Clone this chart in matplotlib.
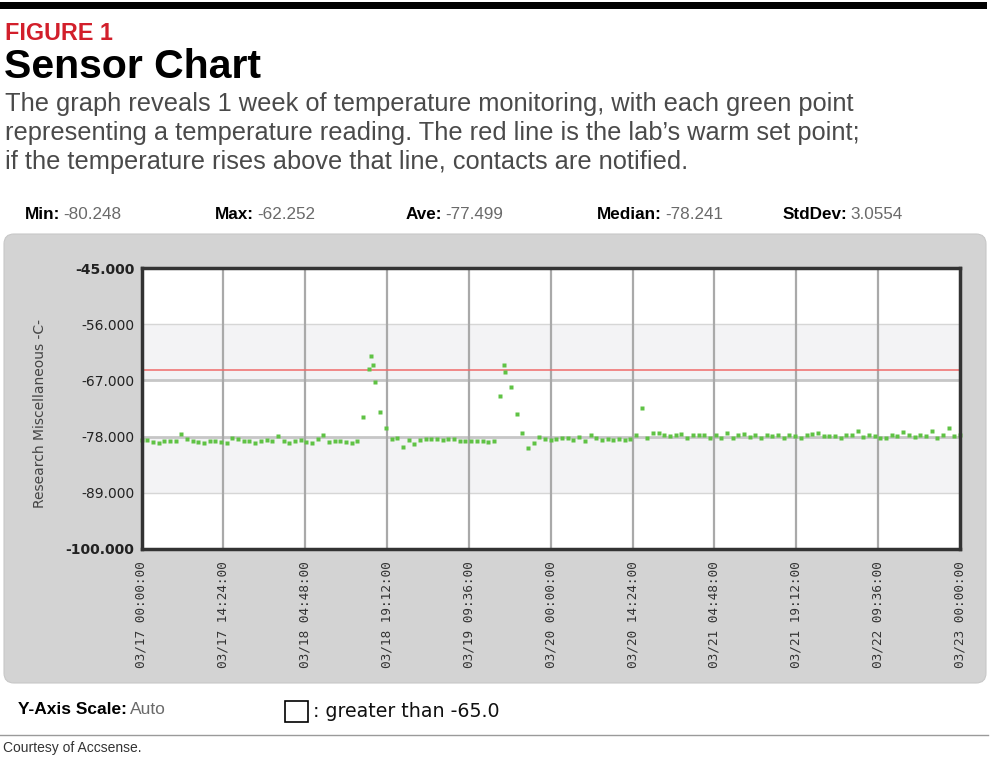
import matplotlib
matplotlib.use("Agg")
import matplotlib.pyplot as plt
from matplotlib.patches import FancyBboxPatch, Rectangle

# ---------------- data ----------------
hours = [0, 1, 2, 3, 4, 5, 6, 7, 8, 9, 10, 11, 12, 13, 14, 15, 16, 17, 18, 19,
         20, 21, 22, 23, 24, 25, 26, 27, 28, 29, 30, 31, 32, 33, 34, 35, 36, 37, 38, 39,
         40, 40.4, 40.7, 41, 42, 43, 44, 45, 46, 47, 48, 49, 50, 51, 52, 53, 54, 55, 56, 57,
         58, 59, 60, 61, 62, 63, 63.8, 64, 65, 66, 67, 68, 69, 70, 71, 72, 73, 74, 75, 76,
         77, 78, 79, 80, 81, 82, 83, 84, 85, 86, 87, 88, 89, 90, 91, 92, 93, 94, 95, 96,
         97, 98, 99, 100, 101, 102, 103, 104, 105, 106, 107, 108, 109, 110, 111, 112, 113, 114, 115, 116,
         117, 118, 119, 120, 121, 122, 123, 124, 125, 126, 127, 128, 129, 130, 131, 132, 133, 134, 135, 136,
         137, 138, 139, 140, 141, 142, 143, 144]
temps = [-78.6, -78.6, -79.1, -79.2, -78.8, -78.8, -78.9, -77.4, -78.5, -78.8,
         -79.0, -79.2, -78.8, -78.8, -79.1, -79.2, -78.3, -78.4, -78.9, -78.8,
         -79.2, -78.8, -78.7, -78.8, -77.9, -78.8, -79.3, -78.8, -78.7, -79.0,
         -79.2, -78.5, -77.6, -79.0, -78.9, -78.9, -79.0, -79.3, -78.9, -74.2,
         -64.7, -62.25, -64.0, -67.4, -73.2, -76.4, -78.4, -78.3, -80.1, -78.7,
         -79.5, -78.7, -78.4, -78.4, -78.4, -78.6, -78.4, -78.4, -78.9, -78.8,
         -78.8, -78.9, -78.9, -79.0, -78.9, -70.1, -63.9, -65.3, -68.3, -73.6,
         -77.2, -80.25, -79.3, -78.1, -78.5, -78.7, -78.4, -78.2, -78.2, -78.6,
         -78.0, -78.8, -77.7, -78.2, -78.7, -78.4, -78.6, -78.4, -78.7, -78.5,
         -77.7, -72.4, -78.2, -77.3, -77.3, -77.6, -77.9, -77.6, -77.4, -78.2,
         -77.6, -77.6, -77.6, -78.2, -77.6, -78.2, -77.3, -78.2, -77.6, -77.4,
         -78.0, -77.6, -78.2, -77.6, -77.9, -77.6, -78.2, -77.7, -77.8, -78.2,
         -77.7, -77.5, -77.2, -77.8, -77.8, -77.9, -78.2, -77.6, -77.6, -77.0,
         -78.0, -77.6, -77.8, -78.2, -78.3, -77.7, -77.9, -77.1, -77.6, -78.0,
         -77.6, -77.8, -77.0, -78.3, -77.7, -76.3, -77.9, -77.6]
set_point = -65.0
x_tick_hours = [0, 14.4, 28.8, 43.2, 57.6, 72, 86.4, 100.8, 115.2, 129.6, 144]
x_tick_labels = ["03/17 00:00:00", "03/17 14:24:00", "03/18 04:48:00", "03/18 19:12:00",
                 "03/19 09:36:00", "03/20 00:00:00", "03/20 14:24:00", "03/21 04:48:00",
                 "03/21 19:12:00", "03/22 09:36:00", "03/23 00:00:00"]
y_ticks = [-100, -89, -78, -67, -56, -45]
stat_names = ["Min:", "Max:", "Ave:", "Median:", "StdDev:"]
stat_values = ["-80.248", "-62.252", "-77.499", "-78.241", "3.0554"]
caption_lines = [
    "The graph reveals 1 week of temperature monitoring, with each green point",
    "representing a temperature reading. The red line is the lab\u2019s warm set point;",
    "if the temperature rises above that line, contacts are notified.",
]

# ---------------- figure ----------------
W, H = 992, 762
fig = plt.figure(figsize=(W / 100, H / 100), dpi=100)
fig.patch.set_facecolor("white")
bg = fig.add_axes([0, 0, 1, 1])
bg.set_xlim(0, W)
bg.set_ylim(H, 0)
bg.axis("off")
renderer = fig.canvas.get_renderer()


def fit_text(x, y, s, target_w, **kw):
    t = bg.text(x, y, s, fontsize=10, **kw)
    w = t.get_window_extent(renderer).width
    t.set_fontsize(10 * target_w / w)
    return t


SANS = ["Liberation Sans", "DejaVu Sans"]

# top rule
bg.add_patch(Rectangle((0, 2), 987, 7, color="black", lw=0))
fit_text(5, 40, "FIGURE 1", 108, color="#d21f2b", fontweight="bold", family=SANS, va="baseline")
fit_text(4, 78, "Sensor Chart", 258, color="black", fontweight="bold", family=SANS, va="baseline")
t0 = fit_text(5, 111, caption_lines[0], 847, color="#4a4a4a", family=SANS, va="baseline")
cs = t0.get_fontsize()
for i, line in enumerate(caption_lines[1:]):
    bg.text(5, 140 + 29 * i, line, fontsize=cs, color="#4a4a4a", family=SANS, va="baseline")

# stats row
stat_x = [25, 215, 406, 597, 783]
for sx, nm, val in zip(stat_x, stat_names, stat_values):
    t = bg.text(sx, 219, nm, fontsize=12.3, fontweight="bold", color="black", family=SANS, va="baseline")
    w = t.get_window_extent(renderer).width
    bg.text(sx + w + 3, 219, val, fontsize=12.3, color="#6a6a6a", family=SANS, va="baseline")

# gray panel
bg.add_patch(FancyBboxPatch((4, 234), 982, 449, boxstyle="round,pad=0,rounding_size=10",
                            facecolor="#d3d3d3", edgecolor="#c8c8c8", lw=0.8))

# y label
bg.text(40, 413, "Research Miscellaneous -C-", rotation=90, ha="center", va="center",
        fontsize=10, color="#444444", family="DejaVu Sans")

# bottom
t = bg.text(18, 714, "Y-Axis Scale:", fontsize=12.5, fontweight="bold", color="black", family=SANS, va="baseline")
w = t.get_window_extent(renderer).width
bg.text(18 + w + 3, 714, "Auto", fontsize=12.5, color="#6a6a6a", family=SANS, va="baseline")
bg.add_patch(Rectangle((285, 701), 23, 21, facecolor="white", edgecolor="black", lw=1.2))
fit_text(313, 717, ": greater than " + f"{set_point:.1f}", 187, color="#111111", family="DejaVu Sans", va="baseline")
bg.plot([0, 988], [735, 735], color="#9a9a9a", lw=1)
bg.text(3, 752, "Courtesy of Accsense.", fontsize=10, color="#333333", family=SANS, va="baseline")

# ---------------- plot ----------------
L, R, T, B = 141.5, 960, 268, 549
ax = fig.add_axes([L / W, 1 - B / H, (R - L) / W, (B - T) / H])
ax.set_facecolor("white")
ax.set_xlim(0, 144)
ax.set_ylim(-100, -45)
ax.axhspan(-67, -56, color="#f3f3f5", lw=0, zorder=0)
ax.axhspan(-89, -78, color="#f3f3f5", lw=0, zorder=0)
for yv in [-56, -89]:
    ax.axhline(yv, color="#d6d6d6", lw=1, zorder=1)
for yv in [-67, -78]:
    ax.axhline(yv, color="#c6c6c6", lw=2, zorder=1)
for xv in x_tick_hours[1:-1]:
    ax.axvline(xv, color="#a9a9a9", lw=1.6, zorder=1)
ax.axhline(set_point, color="#f06a6a", lw=1.1, zorder=2)
ax.plot(hours, temps, "s", ms=3.2, color="#5fc244", mec="none", zorder=3, clip_on=False)

for sp in ax.spines.values():
    sp.set_color("#333333")
    sp.set_linewidth(2.5)
    sp.set_zorder(4)

ax.set_yticks(y_ticks)
ax.set_yticklabels([f"{v:.3f}" for v in y_ticks], family="DejaVu Sans", fontsize=10, color="#222222")
for lab in (ax.get_yticklabels()[0], ax.get_yticklabels()[-1]):
    lab.set_fontweight("bold")
ax.set_xticks(x_tick_hours)
ax.set_xticklabels(x_tick_labels, rotation=90, family="DejaVu Sans Mono", fontsize=9.2, color="#333333")
ax.tick_params(axis="both", length=0)
ax.tick_params(axis="x", pad=9)
ax.tick_params(axis="y", pad=5)

fig.savefig("out.png", dpi=100, facecolor="white")
